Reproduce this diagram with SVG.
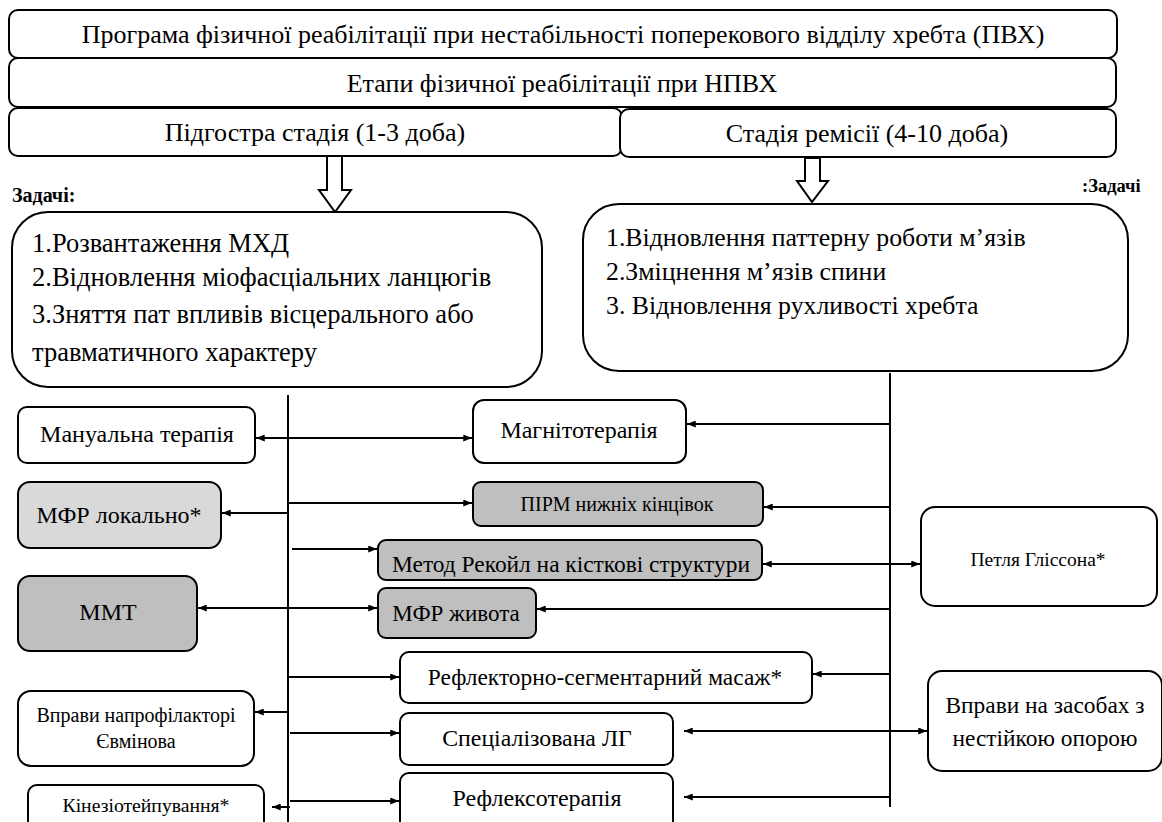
<svg xmlns="http://www.w3.org/2000/svg" width="1162" height="822" viewBox="0 0 1162 822">
<style>
  .box { fill: #ffffff; stroke: #000000; stroke-width: 2; }
  .g1 { fill: #d9d9d9; stroke: #000000; stroke-width: 2; }
  .g2 { fill: #bfbfbf; stroke: #000000; stroke-width: 2; }
  .t { font-family: "Liberation Serif", "Times New Roman", serif; fill: #000000; text-anchor: middle; }
  .tl { font-family: "Liberation Serif", "Times New Roman", serif; fill: #000000; }
  .b { font-weight: bold; }
  .ln { stroke: #000000; stroke-width: 2; fill: none; }
  .ar { stroke: #000000; stroke-width: 2; fill: none; marker-end: url(#ah); }
  .ar2 { stroke: #000000; stroke-width: 2; fill: none; marker-end: url(#ah); marker-start: url(#ah); }
  .hollow { fill: #ffffff; stroke: #000000; stroke-width: 2; stroke-linejoin: miter; }
</style>
<defs>
  <marker id="ah" viewBox="0 0 10 8" refX="10" refY="4" markerWidth="9" markerHeight="7" markerUnits="userSpaceOnUse" orient="auto-start-reverse">
    <path d="M0,0 L10,4 L0,8 z" fill="#000000"/>
  </marker>
  <clipPath id="clipRecoil"><rect x="378" y="540" width="384" height="39" rx="8"/></clipPath>
</defs>
<rect width="1162" height="822" fill="#ffffff"/>

<g id="title">
  <rect class="box" x="9" y="10" width="1108" height="48" rx="9"/>
  <text class="t" x="563" y="43" font-size="26">Програма фізичної реабілітації при нестабільності поперекового відділу хребта (ПВХ)</text>
</g>
<g id="stages">
  <rect class="box" x="9" y="58" width="1107" height="49" rx="9"/>
  <text class="t" x="562" y="92" font-size="26">Етапи фізичної реабілітації при НПВХ</text>
</g>
<g id="stage-subacute">
  <rect class="box" x="9" y="108" width="613" height="48" rx="9"/>
  <text class="t" x="315" y="141" font-size="26">Підгостра стадія (1-3 доба)</text>
</g>
<g id="stage-remission">
  <rect class="box" x="620" y="109" width="496" height="48" rx="9"/>
  <text class="t" x="867" y="142" font-size="26">Стадія ремісії (4-10 доба)</text>
</g>

<g id="arrow-left">
  <polygon class="hollow" points="327,156 342,156 342,190 351,190 335,212 319,190 327,190"/>
</g>
<g id="arrow-right">
  <polygon class="hollow" points="805,158 820,158 820,181 828,181 812,202 797,181 805,181"/>
</g>

<g id="label-tasks-left">
  <text class="tl b" x="12" y="202" font-size="20">Задачі:</text>
</g>
<g id="label-tasks-right">
  <text class="tl b" x="1082" y="192" font-size="18.5">:Задачі</text>
</g>

<g id="tasks-left">
  <rect class="box" x="12" y="212" width="530" height="175" rx="36"/>
  <text class="tl" x="32" y="252" font-size="26.5">1.Розвантаження МХД</text>
  <text class="tl" x="32" y="286" font-size="26.5">2.Відновлення міофасціальних ланцюгів</text>
  <text class="tl" x="32" y="323" font-size="26.5">3.Зняття пат впливів вісцерального або</text>
  <text class="tl" x="32" y="361" font-size="26.5">травматичного характеру</text>
</g>
<g id="tasks-right">
  <rect class="box" x="583" y="204" width="545" height="167" rx="36"/>
  <text class="tl" x="606" y="246" font-size="25.8">1.Відновлення паттерну  роботи м’язів</text>
  <text class="tl" x="606" y="280" font-size="25.8">2.Зміцнення м’язів спини</text>
  <text class="tl" x="606" y="314" font-size="25.8">3. Відновлення рухливості хребта</text>
</g>

<g id="manual">
  <rect class="box" x="18" y="407" width="237" height="56" rx="9"/>
  <text class="t" x="137" y="442" font-size="24">Мануальна терапія</text>
</g>
<g id="mfr-local">
  <rect class="g1" x="18" y="482" width="203" height="66" rx="12"/>
  <text class="t" x="119" y="523" font-size="24">МФР локально*</text>
</g>
<g id="mmt">
  <rect class="g2" x="18" y="576" width="179" height="75" rx="12"/>
  <text class="t" x="108" y="620" font-size="24">ММТ</text>
</g>
<g id="evminov">
  <rect class="box" x="18" y="691" width="236" height="75" rx="13"/>
  <text class="t" x="136" y="722" font-size="20">Вправи напрофілакторі</text>
  <text class="t" x="136" y="748" font-size="20">Євмінова</text>
</g>
<g id="kinesio">
  <rect class="box" x="28" y="785" width="236" height="50" rx="9"/>
  <text class="t" x="146" y="812" font-size="19.7">Кінезіотейпування*</text>
</g>

<g id="magneto">
  <rect class="box" x="473" y="400" width="213" height="63" rx="11"/>
  <text class="t" x="579" y="438" font-size="24">Магнітотерапія</text>
</g>
<g id="pirm">
  <rect class="g2" x="473" y="482" width="290" height="44" rx="8"/>
  <text class="t" x="617" y="511" font-size="20">ПІРМ нижніх кінцівок</text>
</g>
<g id="recoil">
  <rect class="g2" x="378" y="540" width="384" height="40" rx="8"/>
  <text class="t" x="571" y="572" font-size="23.4" clip-path="url(#clipRecoil)">Метод Рекойл на кісткові структури</text>
</g>
<g id="mfr-abdomen">
  <rect class="g2" x="378" y="588" width="158" height="50" rx="8"/>
  <text class="t" x="456" y="621" font-size="23">МФР живота</text>
</g>
<g id="glisson">
  <rect class="box" x="921" y="507" width="236" height="99" rx="14"/>
  <text class="t" x="1038" y="566" font-size="19.5">Петля Гліссона*</text>
</g>
<g id="reflex-segment">
  <rect class="box" x="400" y="652" width="412" height="51" rx="9"/>
  <text class="t" x="605" y="685" font-size="23.4">Рефлекторно-сегментарний масаж*</text>
</g>
<g id="special-lg">
  <rect class="box" x="400" y="713" width="273" height="52" rx="9"/>
  <text class="t" x="537" y="746" font-size="23.8">Спеціалізована ЛГ</text>
</g>
<g id="reflexotherapy">
  <rect class="box" x="400" y="773" width="273" height="60" rx="9"/>
  <text class="t" x="537" y="806" font-size="24">Рефлексотерапія</text>
</g>
<g id="unstable">
  <rect class="box" x="928" y="671" width="234" height="100" rx="14"/>
  <text class="t" x="1045" y="713" font-size="23.4">Вправи на засобах з</text>
  <text class="t" x="1045" y="746" font-size="23.4">нестійкою опорою</text>
</g>

<g id="connectors">
  <line class="ln" x1="288" y1="395" x2="288" y2="822"/>
  <line class="ln" x1="890" y1="373" x2="890" y2="807"/>

  <line class="ar2" x1="256" y1="438" x2="472" y2="438"/>
  <line class="ar" x1="890" y1="424" x2="687" y2="424"/>
  <line class="ar" x1="288" y1="503" x2="472" y2="503"/>
  <line class="ar" x1="289" y1="513" x2="222" y2="513"/>
  <line class="ar" x1="890" y1="507" x2="764" y2="507"/>
  <line class="ar" x1="292" y1="549" x2="377" y2="549"/>
  <line class="ar2" x1="763" y1="564" x2="920" y2="564"/>
  <line class="ar2" x1="198" y1="608" x2="377" y2="608"/>
  <line class="ar" x1="890" y1="609" x2="537" y2="609"/>
  <line class="ar" x1="288" y1="677" x2="399" y2="677"/>
  <line class="ar" x1="890" y1="674" x2="813" y2="674"/>
  <line class="ar" x1="288" y1="712" x2="255" y2="712"/>
  <line class="ar" x1="290" y1="733" x2="399" y2="733"/>
  <line class="ar2" x1="684" y1="731" x2="927" y2="731"/>
  <line class="ar" x1="290" y1="807" x2="272" y2="807"/>
  <line class="ar" x1="290" y1="801" x2="399" y2="801"/>
  <line class="ar" x1="890" y1="797" x2="684" y2="797"/>
</g>
</svg>
